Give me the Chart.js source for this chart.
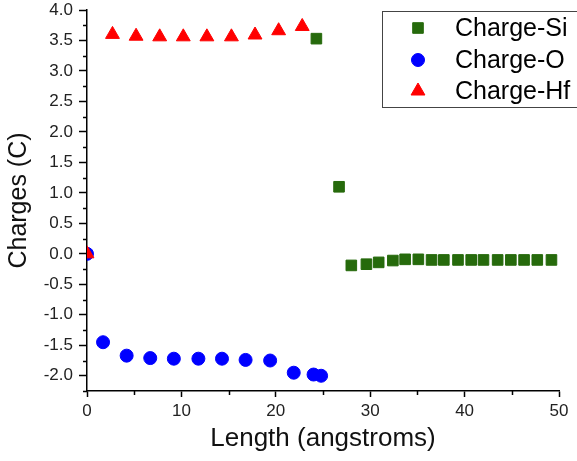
<!DOCTYPE html>
<html>
<head>
<meta charset="utf-8">
<script src="https://cdn.jsdelivr.net/npm/chart.js@4/dist/chart.umd.min.js"></script>
<style>
  html, body { margin: 0; padding: 0; background: #fff; }
  #wrap { width: 577px; height: 461px; }
</style>
</head>
<body>
<div id="wrap"><canvas id="chargeChart" width="577" height="461"></canvas></div>
<script>
// values
const siX = [24.3, 26.7, 28.0, 29.6, 30.9, 32.4, 33.7, 35.1, 36.5, 37.8, 39.3, 40.7, 42.0, 43.5, 44.9, 46.3, 47.7, 49.2];
const siY = [3.53, 1.10, -0.19, -0.17, -0.14, -0.11, -0.09, -0.09, -0.10, -0.10, -0.10, -0.10, -0.10, -0.10, -0.10, -0.10, -0.10, -0.10];

const oX = [0, 1.7, 4.2, 6.7, 9.2, 11.8, 14.3, 16.8, 19.4, 21.9, 24.0, 24.8];
const oY = [0, -1.45, -1.67, -1.71, -1.72, -1.72, -1.72, -1.74, -1.75, -1.95, -1.98, -2.00];

const hfX = [0, 2.7, 5.2, 7.7, 10.2, 12.7, 15.3, 17.8, 20.3, 22.8];
const hfY = [0, 3.60, 3.57, 3.56, 3.56, 3.56, 3.56, 3.59, 3.66, 3.73];

const seriesNames = ['Charge-Si', 'Charge-O', 'Charge-Hf'];
const yMinorTicks = [-2.25, -1.75, -1.25, -0.75, -0.25, 0.25, 0.75, 1.25, 1.75, 2.25, 2.75, 3.25, 3.75];
const xMinorTicks = [5, 15, 25, 35, 45];

function toPoints(xs, ys) {
    return xs.map((x, i) => ({ x: x, y: ys[i] }));
}

// short minor ticks on both axes
const minorTicks = {
    id: 'minorTicks',
    afterDraw(chart) {
        const ctx = chart.ctx;
        const area = chart.chartArea;
        const xs = chart.scales.x;
        const ys = chart.scales.y;
        ctx.save();
        ctx.strokeStyle = '#000';
        ctx.lineWidth = 1.5;
        ctx.beginPath();
        yMinorTicks.forEach(v => {
            const py = Math.round(ys.getPixelForValue(v)) + 0.5;
            ctx.moveTo(area.left - 4, py);
            ctx.lineTo(area.left, py);
        });
        xMinorTicks.forEach(v => {
            const px = Math.round(xs.getPixelForValue(v)) + 0.5;
            ctx.moveTo(px, area.bottom);
            ctx.lineTo(px, area.bottom + 4);
        });
        ctx.stroke();
        ctx.restore();
    }
};

// boxed legend inside the top right corner
const boxLegend = {
    id: 'boxLegend',
    afterDraw(chart) {
        const ctx = chart.ctx;
        ctx.save();
        ctx.strokeStyle = '#444';
        ctx.lineWidth = 1;
        ctx.strokeRect(382.5, 11.5, 200, 96);
        ctx.font = '25px "Liberation Sans", Arial, sans-serif';
        ctx.textBaseline = 'middle';
        const rows = [28, 60, 91];
        chart.data.datasets.forEach((ds, i) => {
            ctx.fillStyle = ds.backgroundColor;
            ctx.strokeStyle = ds.borderColor;
            ctx.lineWidth = 1;
            Chart.helpers.drawPoint(ctx, {
                pointStyle: ds.pointStyle,
                radius: ds.pointRadius,
                rotation: 0,
                borderWidth: 1
            }, 418, rows[i]);
            ctx.fillStyle = '#000';
            ctx.fillText(ds.label, 455, rows[i] + 1);
        });
        ctx.restore();
    }
};

const ctx = document.getElementById('chargeChart').getContext('2d');

const chart = new Chart(ctx, {
    type: 'scatter',
    data: {
        datasets: [{
            label: seriesNames[0],
            data: toPoints(siX, siY),
            pointStyle: 'rect',
            pointRadius: 7.5,
            backgroundColor: '#266a0c',
            borderColor: '#266a0c',
            borderWidth: 1,
            order: 2
        }, {
            label: seriesNames[1],
            data: toPoints(oX, oY),
            pointStyle: 'circle',
            pointRadius: 6.5,
            backgroundColor: '#0000ff',
            borderColor: '#0000ff',
            borderWidth: 1,
            order: 1
        }, {
            label: seriesNames[2],
            data: toPoints(hfX, hfY),
            pointStyle: 'triangle',
            pointRadius: 8,
            backgroundColor: '#ff0000',
            borderColor: '#ff0000',
            borderWidth: 1,
            order: 0
        }]
    },
    options: {
        responsive: false,
        animation: false,
        layout: {
            padding: { top: 10, right: 18, left: 0, bottom: 0 }
        },
        scales: {
            x: {
                type: 'linear',
                min: 0,
                max: 50,
                afterFit(scale) { scale.height = 70; },
                ticks: {
                    stepSize: 10,
                    padding: 4,
                    color: '#222',
                    font: { family: '"Liberation Sans", Arial, sans-serif', size: 17 }
                },
                grid: {
                    drawOnChartArea: false,
                    drawTicks: true,
                    tickLength: 6,
                    tickWidth: 1.5,
                    tickColor: '#000'
                },
                border: { display: true, color: '#000', width: 1.5 },
                title: {
                    display: true,
                    text: 'Length (angstroms)',
                    color: '#111',
                    font: { family: '"Liberation Sans", Arial, sans-serif', size: 26, lineHeight: 1 },
                    padding: { top: 0, bottom: 9 }
                }
            },
            y: {
                type: 'linear',
                min: -2.25,
                max: 4.0,
                afterFit(scale) {
                    scale.width = 87;
                    scale.paddingTop = 0;
                    scale.paddingBottom = 0;
                },
                ticks: {
                    stepSize: 0.5,
                    includeBounds: false,
                    padding: 6,
                    color: '#222',
                    font: { family: '"Liberation Sans", Arial, sans-serif', size: 17 },
                    callback: value => value.toFixed(1)
                },
                grid: {
                    drawOnChartArea: false,
                    drawTicks: true,
                    tickLength: 8,
                    tickWidth: 1.5,
                    tickColor: '#000'
                },
                border: { display: true, color: '#000', width: 1.5 },
                title: {
                    display: true,
                    text: 'Charges (C)',
                    color: '#111',
                    font: { family: '"Liberation Sans", Arial, sans-serif', size: 25, lineHeight: 1 },
                    padding: { top: 7, bottom: 0 }
                }
            }
        },
        plugins: {
            legend: { display: false },
            tooltip: { enabled: false }
        }
    },
    plugins: [minorTicks, boxLegend]
});
</script>
</body>
</html>
